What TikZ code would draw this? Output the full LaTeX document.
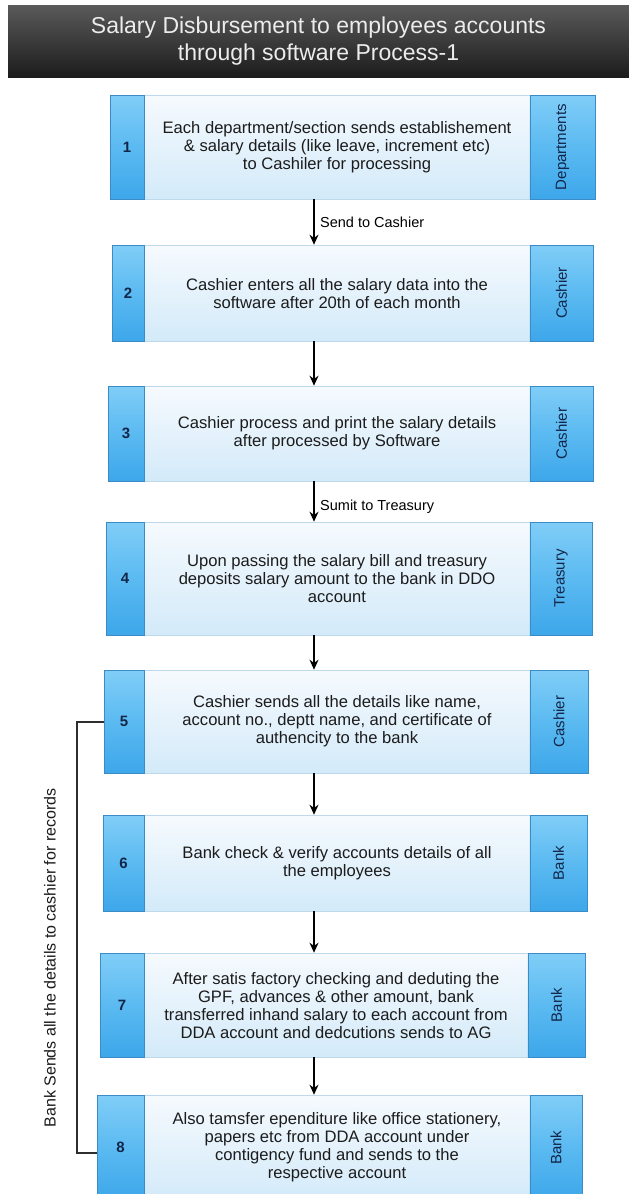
\documentclass[tikz,border=0pt]{standalone}
\usepackage{fontspec}
\setmainfont{Liberation Sans}
\usetikzlibrary{arrows.meta,calc}

\definecolor{bandtop}{HTML}{5A5A5A}
\definecolor{bandbot}{HTML}{1C1C1C}
\definecolor{titleink}{HTML}{ECECEC}
\definecolor{bodytop}{HTML}{F6FAFE}
\definecolor{bodybot}{HTML}{D3EAF9}
\definecolor{bodyedge}{HTML}{BFD9EC}
\definecolor{tabtop}{HTML}{80CDF7}
\definecolor{tabmid}{HTML}{5BBAF1}
\definecolor{tabbot}{HTML}{3DA7EA}
\definecolor{tabedge}{HTML}{3B8BC7}
\definecolor{tabink}{HTML}{13264A}
\definecolor{bodyink}{HTML}{1C1C1C}
\definecolor{bracketink}{HTML}{2E2E2E}

\tikzset{
  titleband/.style={inner sep=0pt, top color=bandtop, bottom color=bandbot,
    text=titleink, align=center, font=\fontsize{23}{27}\selectfont},
  bodybox/.style={draw=bodyedge, line width=0.6pt, top color=bodytop,
    bottom color=bodybot, inner sep=0pt},
  tabbox/.style={draw=tabedge, line width=0.8pt, top color=tabtop,
    bottom color=tabbot, middle color=tabmid, inner sep=0pt, text=tabink,
    font=\fontsize{15}{15}\selectfont\bfseries},
  roletext/.style={rotate=90, text=tabink, inner sep=0pt,
    font=\fontsize{15}{15}\selectfont},
  bodytext/.style={align=center, text=bodyink, inner sep=0pt,
    font=\fontsize{16.6}{18}\selectfont},
  flowarrow/.style={line width=1.6pt, draw=black,
    -{Stealth[length=10pt,width=9pt]}},
  flowlabel/.style={anchor=west, inner sep=0pt, text=black,
    font=\fontsize{14.5}{16}\selectfont},
  bracket/.style={line width=1.8pt, draw=bracketink},
  sidelabel/.style={rotate=90, inner sep=0pt, text=bodyink,
    font=\fontsize{16}{18}\selectfont},
}

% #1 name, #2 left, #3 right, #4 top, #5 bottom, #6 number,
% #7 role, #8 description, #9 left edge of the role tab
\newcommand\flowstep[9]{%
  \node[bodybox, minimum width={(#3-#2)*1pt}, minimum height={(#5-#4)*1pt}]
    (#1) at ({(#2+#3)/2},{(#4+#5)/2}) {};
  \node[tabbox, anchor=north west, minimum width={(144-#2)*1pt},
    minimum height={(#5-#4)*1pt}] (#1n) at (#1.north west) {#6};
  \node[tabbox, anchor=north east, minimum width={(#3-#9)*1pt},
    minimum height={(#5-#4)*1pt}] (#1r) at (#1.north east) {};
  \node[roletext] (#1rl) at (#1r.center) {#7};
  \node[bodytext] (#1t) at ($(#1n.east)!0.5!(#1r.west)$) {#8};
}

\begin{document}
\begin{tikzpicture}[x=1pt,y=-1pt]
  \fill[white] (0,0) rectangle (629,1194);
  \useasboundingbox (0,0) rectangle (629,1194);

  % heading band
  \node[titleband, minimum width=621pt, minimum height=72pt] (title)
    at (318.5,41) {Salary Disbursement to employees accounts\\through software Process-1};

  % process steps
  \flowstep{b1}{110}{595}{95}{199}{1}{Departments}
    {Each department/section sends establishement\\\& salary details (like leave, increment etc)\\to Cashiler for processing}{530}
  \flowstep{b2}{112}{593}{245}{341}{2}{Cashier}
    {Cashier enters all the salary data into the\\software after 20th of each month}{530}
  \flowstep{b3}{108}{593}{386}{481}{3}{Cashier}
    {Cashier process and print the salary details\\after processed by Software}{530}
  \flowstep{b4}{106}{592}{522}{635}{4}{Treasury}
    {Upon passing the salary bill and treasury\\deposits salary amount to the bank in DDO\\account}{530}
  \flowstep{b5}{104}{588}{670}{773}{5}{Cashier}
    {Cashier sends all the details like name,\\account no., deptt name, and certificate of\\authencity to the bank}{530}
  \flowstep{b6}{103}{587}{815}{911}{6}{Bank}
    {Bank check \& verify accounts details of all\\the employees}{530}
  \flowstep{b7}{100}{585}{953}{1057}{7}{Bank}
    {After satis factory checking and deduting the\\GPF, advances \& other amount, bank\\transferred inhand salary to each account from\\DDA account and dedcutions sends to AG}{528}
  \flowstep{b8}{97}{582}{1095}{1200}{8}{Bank}
    {Also tamsfer ependiture like office stationery,\\papers etc from DDA account under\\contigency fund and sends to the\\respective account}{530}

  % downward connectors
  \coordinate (ax) at (314,0);
  \draw[flowarrow] (b1.south -| ax) -- (b2.north -| ax);
  \draw[flowarrow] (b2.south -| ax) -- (b3.north -| ax);
  \draw[flowarrow] (b3.south -| ax) -- (b4.north -| ax);
  \draw[flowarrow] (b4.south -| ax) -- (b5.north -| ax);
  \draw[flowarrow] (b5.south -| ax) -- (b6.north -| ax);
  \draw[flowarrow] (b6.south -| ax) -- (b7.north -| ax);
  \draw[flowarrow] (b7.south -| ax) -- (b8.north -| ax);

  \node[flowlabel] (lab1) at (320,222) {Send to Cashier};
  \node[flowlabel] (lab3) at (320,507) {Sumit to Treasury};

  % return path from the bank back to the cashier
  \coordinate (brk) at (77,1153);
  \draw[bracket] (b5n.west) -| (brk) -- (b8n.west |- brk);
  \node[sidelabel] (side) at (50,958) {Bank Sends all the details to cashier for records};
\end{tikzpicture}
\end{document}
